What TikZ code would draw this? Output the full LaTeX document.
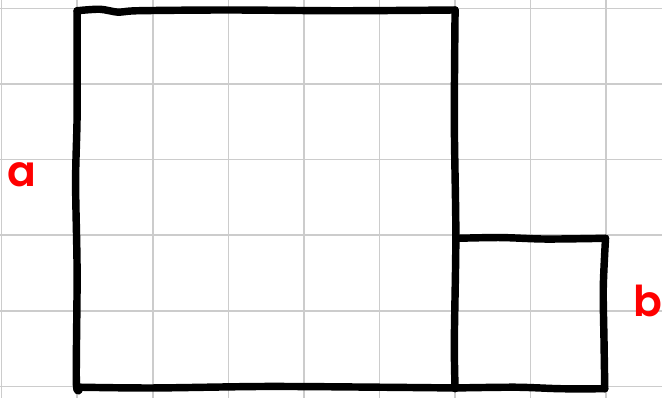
\documentclass[tikz,border=0pt]{standalone}
\usepackage{fontspec}
\usepackage{xcolor}
\usepackage{tikz}
\newfontfamily\handfont{Poppins}[UprightFont=* SemiBold]
\definecolor{gridgray}{HTML}{CCCCCC}
\definecolor{ink}{HTML}{000000}
\definecolor{labred}{HTML}{FF0000}
\tikzset{
  gridLine/.style={draw=gridgray, line width=0.6pt},
  sketch/.style={draw=ink, line width=2.8pt, line cap=round, line join=round},
  lab/.style={text=labred, font=\handfont\fontsize{16}{16}\selectfont}
}
\begin{document}
\begin{tikzpicture}
\useasboundingbox (-0.02,-0.152) rectangle (8.737,5.112);
% background grid
\draw[gridLine] (-0.02,-0.152) grid (8.737,5.112);

% big square (side a)
\draw[sketch] plot[smooth] coordinates {(1.0,4.97) (1.3,4.99) (1.55,4.95) (1.8,4.97) (3.0,4.98) (4.5,4.97) (6.0,4.98)};
\draw[sketch] plot[smooth] coordinates {(6.0,4.98) (5.99,3.5) (6.01,2.0) (5.99,0.6) (6.0,-0.03)};
\draw[sketch] plot[smooth] coordinates {(1.0,4.97) (1.0,3.6) (0.98,2.7) (1.0,1.5) (0.99,0.05) (1.04,-0.01)};
\draw[sketch] plot[smooth] coordinates {(1.04,-0.01) (2.0,-0.02) (3.5,0.0) (5.0,-0.01) (6.0,-0.02)};

% small square (side b)
\draw[sketch] plot[smooth] coordinates {(6.03,1.96) (6.6,1.97) (7.2,1.95) (7.99,1.96)};
\draw[sketch] plot[smooth] coordinates {(7.99,1.96) (7.96,1.3) (7.97,0.6) (7.98,-0.03)};
\draw[sketch] plot[smooth] coordinates {(6.0,-0.02) (6.8,-0.01) (7.4,-0.03) (7.98,-0.03)};

% labels
\node[lab] (la) at (0.27,2.8) {a};
\node[lab] (lb) at (8.55,1.13) {b};
\end{tikzpicture}
\end{document}
